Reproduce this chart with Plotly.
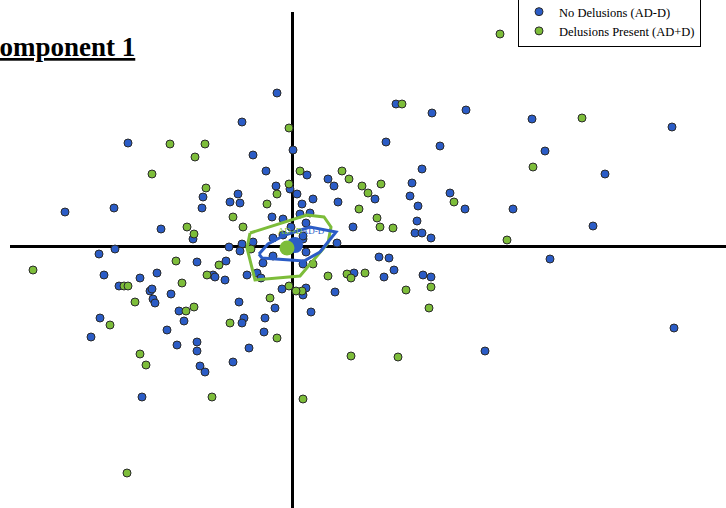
import plotly.graph_objects as go

# Component scores, No Delusions (AD-D)
blue_x = [-5.0, -16.4, 0.1, -3.9, -2.6, -1.6, -0.2, 0.5, -5.4, -8.9, -6.2, -5.2, -22.7, -17.8, -9.0,
          -2.0, -0.9, -13.1, -9.9, -0.1, -6.3, -5.0, -17.7, -19.3, 1.5, 3.6, 2.1, 1.0, 0.8, 1.8,
          10.4, 14.0, 17.4, 24.0, 38.0, 9.4, 14.8, 25.3, 13.0, 31.3, 4.2, 12.0, 8.3, 11.8, 15.8,
          4.6, 17.3, 22.1, 12.6, 12.5, 6.1, 30.1, 1.4, 12.3, 13.0, 13.9, 1.1, 4.5, 1.4, 8.7,
          9.7, 25.8, 1.1, 10.2, 6.2, 9.2, 13.1, 13.9, 1.4, 1.1, 4.3, 1.9, 38.2, 19.3, -3.9,
          -9.5, -6.6, -5.2, -2.9, -18.8, -15.2, -13.5, -7.9, -7.7, -6.7, -4.5, -3.5, -3.1, -17.3,
          -14.2, -14.0, -12.1, -1.0, -13.9, -13.7, -5.3, -1.7, -11.3, -19.2, -10.8, -4.8, -5.0,
          -2.7, -20.1, -12.5, -2.8, -11.5, -9.5, -9.5, -4.3, -9.2, -8.7, -5.9, -15.0, -1.9, -0.9,
          1.1, -1.9, -1.5]
blue_y = [12.4, 10.3, 9.6, 9.1, 7.5, 6.0, 5.7, 5.2, 5.2, 4.9, 4.4, 4.3, 3.4, 3.8, 3.8,
          2.9, 2.7, 1.7, 0.7, 1.9, -0.1, 0.2, -0.3, -0.8, 7.1, 6.7, 4.7, 4.2, 3.2, 3.3,
          14.2, 13.3, 13.6, 12.7, 11.9, 10.4, 10.0, 9.5, 7.7, 7.2, 6.0, 6.3, 4.7, 5.0, 5.3,
          4.4, 3.7, 3.7, 4.0, 2.5, 1.9, 2.0, 2.3, 1.3, 1.3, 0.8, 0.7, 0.3, -0.6, -1.1,
          -1.2, -1.3, -1.8, -2.4, -2.7, -3.1, -2.9, -3.1, -4.2, -4.9, -4.6, -6.6, -8.2, -10.5, 0.4,
          -1.6, -1.5, -0.5, -1.7, -2.9, -3.2, -2.7, -2.9, -3.1, -3.4, -2.9, -2.7, -3.2, -4.0,
          -4.5, -4.3, -4.8, -4.3, -5.3, -5.7, -5.6, -6.2, -6.5, -7.2, -7.5, -7.2, -7.7,
          -7.2, -9.1, -8.4, -8.6, -9.9, -9.6, -10.5, -10.2, -12.0, -12.6, -11.6, -15.1, 0.8, 1.1,
          1.0, -1.0, 15.3]

# Component scores, Delusions Present (AD+D)
green_x = [-0.3, -12.2, -8.7, -9.7, -14.0, 0.8, -0.3, -8.6, -1.5, -2.5, -5.9, -10.5, -9.8, -4.9,
           11.0, 29.0, 24.1, 5.0, 5.7, 7.0, 8.9, 7.6, 16.2, 6.7, 8.5, 8.8, 10.1, 21.5, 2.1, 3.6,
           5.5, 5.9, 7.3, 13.9, 11.4, 1.0, 13.7, 5.9, 10.6, 1.1, -25.9, -11.6, -7.3, -8.5, -16.8,
           -16.4, -11.0, -0.3, 0.4, -15.7, -2.2, -10.6, -9.8, -18.2, -6.2, -1.5, -15.2, -14.6,
           -8.0, -16.5, 20.8, -4.1]
green_y = [11.8, 10.2, 10.2, 8.9, 7.2, 7.5, 6.2, 5.8, 5.2, 4.2, 2.9, 1.9, 1.2, 1.9,
           14.2, 12.8, 7.9, 7.5, 6.7, 6.0, 6.2, 5.3, 4.4, 3.7, 2.8, 1.9, 1.8, 0.6, -1.8, -3.0,
           -2.8, -3.2, -2.7, -4.1, -4.4, -4.5, -6.2, -11.0, -11.1, -15.3, -2.4, -1.5, -1.9, -2.9, -4.0,
           -4.0, -3.7, -4.0, -4.5, -5.6, -5.2, -6.5, -6.1, -7.9, -7.7, -9.2, -10.8, -11.9,
           -15.1, -22.7, 21.2, -0.3]

# Group hulls and centroids
green_hull_x = [-4.2, -4.5, -3.7, 0.8, 3.6, 3.9, 3.2, 1.5, -4.2]
green_hull_y = [1.3, -0.2, -3.4, -3.0, 0.3, 1.9, 2.9, 3.1, 1.3]
blue_hull_x = [-3.3, -2.4, -0.7, 1.8, 4.4, 2.8, 1.2, -3.0, -3.3]
blue_hull_y = [-0.8, 0.2, 1.1, 1.9, 1.4, -0.6, -1.5, -1.2, -0.8]
green_centroid = (-0.5, -0.2)
blue_centroid = (0.3, 0.1)

BLUE = "#2B5CC6"
GREEN = "#7DBD3A"
EDGE = "#2a2a2a"

fig = go.Figure()
fig.add_trace(go.Scatter(x=blue_x, y=blue_y, mode="markers", name="No Delusions (AD-D)",
                         marker=dict(color=BLUE, size=8, line=dict(color=EDGE, width=1))))
fig.add_trace(go.Scatter(x=green_x, y=green_y, mode="markers", name="Delusions Present (AD+D)",
                         marker=dict(color=GREEN, size=8, line=dict(color=EDGE, width=1))))
fig.add_trace(go.Scatter(x=green_hull_x, y=green_hull_y, mode="lines", showlegend=False,
                         line=dict(color=GREEN, width=3)))
fig.add_trace(go.Scatter(x=blue_hull_x, y=blue_hull_y, mode="lines", showlegend=False,
                         line=dict(color=BLUE, width=3)))
fig.add_trace(go.Scatter(x=[green_centroid[0] + 0.3], y=[green_centroid[1] + 1.6], mode="text",
                         text=["AD+D"], showlegend=False,
                         textfont=dict(color=GREEN, size=9, family="Liberation Serif")))
fig.add_trace(go.Scatter(x=[blue_centroid[0] + 1.8], y=[blue_centroid[1] + 1.3], mode="text",
                         text=["AD-D"], showlegend=False,
                         textfont=dict(color=BLUE, size=9, family="Liberation Serif")))
fig.add_trace(go.Scatter(x=[blue_centroid[0]], y=[blue_centroid[1]], mode="markers", showlegend=False,
                         marker=dict(color=BLUE, size=16)))
fig.add_trace(go.Scatter(x=[green_centroid[0]], y=[green_centroid[1]], mode="markers", showlegend=False,
                         marker=dict(color=GREEN, size=15)))

fig.add_annotation(text="<b><u>Component 1</u></b>", xref="paper", yref="paper",
                   x=0.1774, y=0.9294, xanchor="right", yanchor="middle", showarrow=False,
                   font=dict(family="Liberation Serif", size=27, color="black"))

fig.update_layout(
    width=726, height=508,
    margin=dict(l=10, r=0, t=12, b=0, autoexpand=False),
    paper_bgcolor="white", plot_bgcolor="white",
    showlegend=True,
    legend=dict(x=0.7095, y=0.9294, xanchor="left", yanchor="bottom",
                bordercolor="black", borderwidth=1, bgcolor="white",
                font=dict(family="Liberation Serif", size=12.5, color="black"),
                itemwidth=30, tracegroupgap=0),
    xaxis=dict(range=[-28.2, 43.4], showgrid=False, showticklabels=False, ticks="",
               zeroline=True, zerolinecolor="black", zerolinewidth=3, showline=False, fixedrange=True),
    yaxis=dict(range=[-26.2, 23.4], showgrid=False, showticklabels=False, ticks="",
               zeroline=True, zerolinecolor="black", zerolinewidth=3, showline=False, fixedrange=True),
)

fig.write_html("out.html", config={"displayModeBar": False},
               post_script="document.body.style.margin='0';document.body.style.overflow='hidden';")
